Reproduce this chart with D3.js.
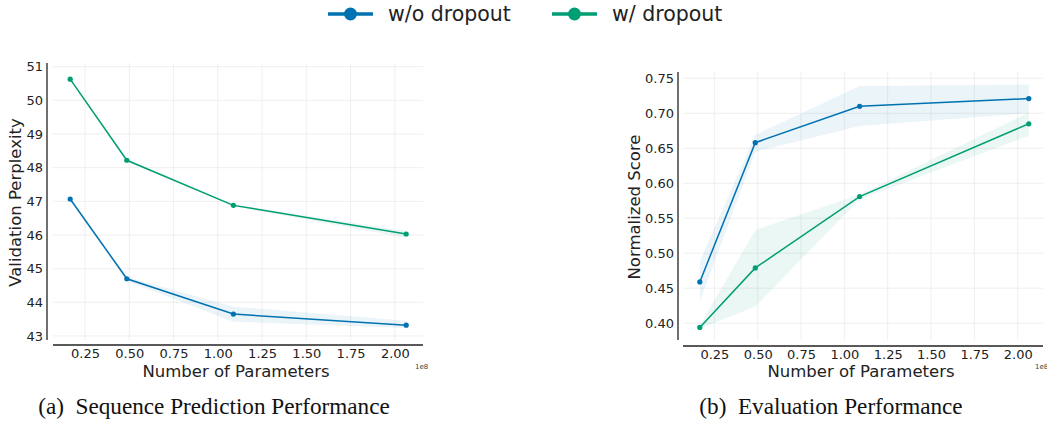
<!DOCTYPE html>
<html>
<head>
<meta charset="utf-8">
<script src="https://cdn.jsdelivr.net/npm/d3@7"></script>
<style>
  body { margin: 0; background: #fff; }
  svg { display: block; font-family: "DejaVu Sans", sans-serif; }
  .grid line { stroke: #ebebeb; stroke-width: 0.8; }
  .tick text { fill: #222; }
  .caption { white-space: pre; }
</style>
</head>
<body>
<div id="chart-area"></div>
<script>
// number of parameters (x 1e8)
var params = [0.166, 0.486, 1.088, 2.064];

// (a) validation perplexity
var pplNoDrop = [47.07, 44.70, 43.65, 43.32];
var pplNoDropLo = [47.02, 44.63, 43.42, 43.24];
var pplNoDropHi = [47.12, 44.76, 43.87, 43.45];
var pplDrop = [50.63, 48.22, 46.88, 46.03];
var pplDropLo = [50.60, 48.19, 46.85, 45.92];
var pplDropHi = [50.66, 48.25, 46.91, 46.12];

// (b) normalized score
var scoreNoDrop = [0.459, 0.658, 0.710, 0.721];
var scoreNoDropLo = [0.431, 0.645, 0.682, 0.700];
var scoreNoDropHi = [0.488, 0.669, 0.739, 0.741];
var scoreDrop = [0.394, 0.479, 0.581, 0.685];
var scoreDropLo = [0.392, 0.424, 0.577, 0.668];
var scoreDropHi = [0.397, 0.533, 0.584, 0.701];

var xTicks = [0.25, 0.5, 0.75, 1.0, 1.25, 1.5, 1.75, 2.0];
var pplTicks = [43, 44, 45, 46, 47, 48, 49, 50, 51];
var scoreTicks = [0.40, 0.45, 0.50, 0.55, 0.60, 0.65, 0.70, 0.75];

var blue = "#0072b2", green = "#009e73";

var svg = d3.select('#chart-area').append('svg')
            .attr("width", 1047)
            .attr("height", 423);

function drawPanel(opt) {
  var x = d3.scaleLinear().domain(opt.xDomain).range([opt.left, opt.right]);
  var y = d3.scaleLinear().domain(opt.yDomain).range([opt.bottom, opt.top]);
  var g = svg.append('g');

  // grid
  var grid = g.append('g').attr("class", "grid");
  grid.selectAll('.vx').data(xTicks).enter().append('line')
      .attr("x1", d => x(d)).attr("x2", d => x(d))
      .attr("y1", opt.top).attr("y2", opt.bottom);
  grid.selectAll('.hy').data(opt.yTicks).enter().append('line')
      .attr("x1", opt.left).attr("x2", opt.right)
      .attr("y1", d => y(d)).attr("y2", d => y(d));

  // bands + lines
  opt.series.forEach(function(s) {
    var rows = params.map((p, i) => ({x: p, v: s.v[i], lo: s.lo[i], hi: s.hi[i]}));
    var area = d3.area().x(d => x(d.x)).y0(d => y(d.lo)).y1(d => y(d.hi));
    var line = d3.line().x(d => x(d.x)).y(d => y(d.v));
    g.append('path').datum(rows).attr("d", area)
     .attr("fill", s.color).attr("fill-opacity", 0.08);
    g.append('path').datum(rows).attr("d", line)
     .attr("fill", "none").attr("stroke", s.color).attr("stroke-width", 1.5);
    g.selectAll(null).data(rows).enter().append('circle')
     .attr("cx", d => x(d.x)).attr("cy", d => y(d.v)).attr("r", 2.6)
     .attr("fill", s.color);
  });

  // offset spines
  var xAxis = d3.axisBottom(x).tickValues(xTicks).tickSize(0).tickPadding(4)
                .tickFormat(d3.format(".2f"));
  var ax = g.append('g').attr("transform", "translate(0," + opt.xSpine + ")").call(xAxis);
  ax.select('.domain').attr("stroke", "#222").attr("stroke-width", 1.3)
    .attr("d", "M" + opt.left + ",0H" + opt.right);
  ax.selectAll('text').attr("font-size", 13).attr("font-family", "DejaVu Sans");

  var yAxis = d3.axisLeft(y).tickValues(opt.yTicks).tickSize(0).tickPadding(4)
                .tickFormat(opt.yFormat);
  var ay = g.append('g').attr("transform", "translate(" + opt.ySpine + ",0)").call(yAxis);
  ay.select('.domain').attr("stroke", "#222").attr("stroke-width", 1.3)
    .attr("d", "M0," + opt.top + "V" + opt.bottom);
  ay.selectAll('text').attr("font-size", 13).attr("font-family", "DejaVu Sans");

  g.append('text').attr("x", (opt.left + opt.right) / 2 - 2).attr("y", 377)
   .attr("text-anchor", "middle").attr("font-size", 16.5).attr("fill", "#222")
   .text("Number of Parameters");
  g.append('text').attr("x", opt.right - 8).attr("y", 369)
   .attr("font-size", 7).attr("fill", "#444").text("1e8");
  g.append('text')
   .attr("transform", "translate(" + opt.yLabelX + "," + ((opt.top + opt.bottom) / 2 + 1) + ") rotate(-90)")
   .attr("text-anchor", "middle").attr("font-size", 16.5).attr("fill", "#222")
   .text(opt.yLabel);
  g.append('text').attr("class", "caption").attr("x", opt.captionX).attr("y", 414)
   .attr("text-anchor", "middle").attr("font-family", "Liberation Serif, serif")
   .attr("font-size", 23.2).attr("fill", "#111").text(opt.caption);
}

drawPanel({
  left: 53, right: 423, top: 63, bottom: 340, xSpine: 345, ySpine: 47,
  xDomain: [0.069, 2.159], yDomain: [42.88, 51.11],
  yTicks: pplTicks, yFormat: d3.format("d"),
  yLabel: "Validation Perplexity", yLabelX: 21,
  caption: "(a)  Sequence Prediction Performance", captionX: 214,
  series: [
    {v: pplNoDrop, lo: pplNoDropLo, hi: pplNoDropHi, color: blue},
    {v: pplDrop, lo: pplDropLo, hi: pplDropHi, color: green}
  ]
});

drawPanel({
  left: 683, right: 1043, top: 72, bottom: 340, xSpine: 346, ySpine: 678,
  xDomain: [0.069, 2.146], yDomain: [0.376, 0.759],
  yTicks: scoreTicks, yFormat: d3.format(".2f"),
  yLabel: "Normalized Score", yLabelX: 640,
  caption: "(b)  Evaluation Performance", captionX: 831,
  series: [
    {v: scoreNoDrop, lo: scoreNoDropLo, hi: scoreNoDropHi, color: blue},
    {v: scoreDrop, lo: scoreDropLo, hi: scoreDropHi, color: green}
  ]
});

// legend
var legendItems = [
  {label: "w/o dropout", color: blue, x: 328},
  {label: "w/ dropout", color: green, x: 552}
];
var legend = svg.append('g').selectAll('g').data(legendItems).enter().append('g')
                .attr("transform", d => "translate(" + d.x + ",14)");
legend.append('line').attr("x1", 0).attr("x2", 45)
      .attr("stroke", d => d.color).attr("stroke-width", 3.5);
legend.append('circle').attr("cx", 22.5).attr("r", 6.5).attr("fill", d => d.color);
legend.append('text').attr("x", 60).attr("dy", "0.35em")
      .attr("font-size", 20.5).attr("fill", "#222").text(d => d.label);
</script>
</body>
</html>
